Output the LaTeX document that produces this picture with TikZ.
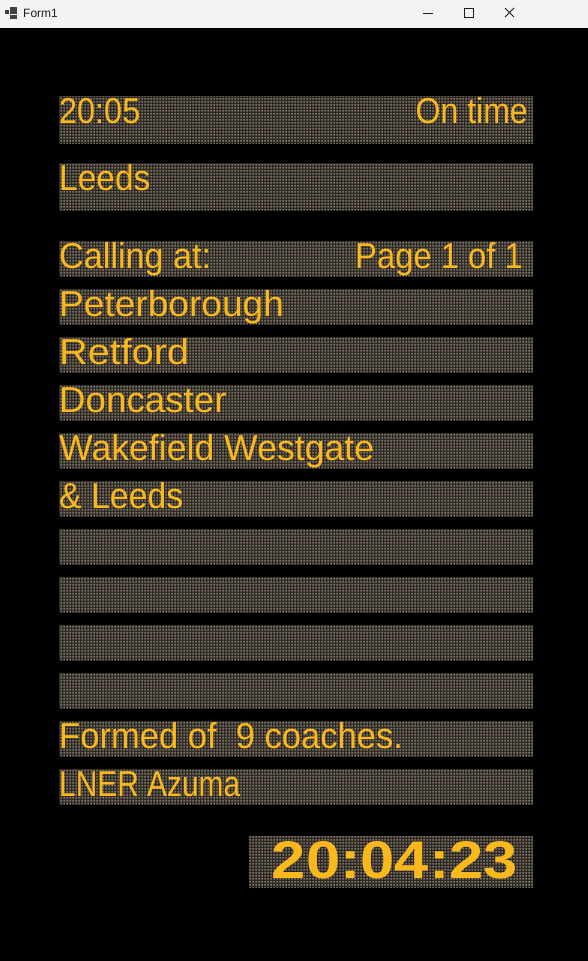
\documentclass[tikz,border=0pt]{standalone}
\usepackage{fontspec}
\setmainfont{Liberation Sans}
\usetikzlibrary{patterns}
\pgfdeclarepatternformonly{ledgrid}{\pgfqpoint{0pt}{0pt}}{\pgfqpoint{3pt}{3pt}}{\pgfqpoint{3pt}{3pt}}{\pgfpathrectangle{\pgfqpoint{0.4pt}{0.4pt}}{\pgfqpoint{2.2pt}{2.2pt}}\pgfusepath{fill}}
\definecolor{amber}{RGB}{250,184,28}
\definecolor{panelbg}{RGB}{44,40,35}
\definecolor{leddot}{RGB}{128,118,104}
\definecolor{titlebg}{RGB}{243,243,243}
\definecolor{titlefg}{RGB}{30,30,30}
\newcommand{\ledw}[2]{\scalebox{#1}[1]{#2}}
\begin{document}
\begin{tikzpicture}[x=1pt,y=-1pt,
  panel/.style={fill=panelbg, postaction={pattern=ledgrid, pattern color=leddot}},
  ledtext/.style={text=amber, font=\fontsize{36}{36}\selectfont, inner sep=0pt, anchor=base west},
  ledright/.style={ledtext, anchor=base east},
  clocktext/.style={text=amber, font=\fontsize{53}{53}\selectfont\bfseries, inner sep=0pt, anchor=base},
  winglyph/.style={draw=titlefg, line width=0.8pt}]
\useasboundingbox (0,0) rectangle (588,961);
% window
\fill[black] (0,0) rectangle (588,961);
\fill[titlebg] (0,0) rectangle (588,28);
% icon
\fill[titlefg!85] (10,7) rectangle (17,14);
\fill[titlefg!85] (5,10) rectangle (9,14);
\fill[titlefg!85] (10,15) rectangle (17,19);
\node[anchor=west, inner sep=0pt, text=titlefg, font=\fontsize{12}{12}\selectfont] (title) at (23,13) {Form1};
\coordinate (minA) at (423,13.5);
\coordinate (minB) at (433,13.5);
\draw[winglyph] (minA) -- (minB);
\draw[winglyph] (464,8.5) rectangle (473,17.5);
\draw[winglyph] (505,8) -- (514,17) (505,17) -- (514,8);
% panels
\path[panel] (59,96) rectangle (533,143);
\path[panel] (59,163) rectangle (533,210);
\foreach \t in {241,289,337,385,433,481,529,577,625,673,721,769}{
  \path[panel] (59,\t) rectangle (533,\t+35);
}
\path[panel] (249,836) rectangle (533,887);
% texts
\node[ledtext] (time) at (59,123) {\ledw{0.9}{20:05}};
\node[ledright] (status) at (528,123) {\ledw{0.89}{On time}};
\node[ledtext] (dest) at (59,190) {\ledw{0.93}{Leeds}};
\node[ledtext] (calling) at (59,268) {\ledw{0.95}{Calling at:}};
\node[ledright] (page) at (523,268) {\ledw{0.91}{Page 1 of 1}};
\node[ledtext] (s1) at (59,316) {\ledw{1.03}{Peterborough}};
\node[ledtext] (s2) at (59,364) {\ledw{1.1}{Retford}};
\node[ledtext] (s3) at (59,412) {\ledw{1.02}{Doncaster}};
\node[ledtext] (s4) at (59,460) {\ledw{0.99}{Wakefield Westgate}};
\node[ledtext] (s5) at (59,508) {\ledw{0.94}{\& Leeds}};
\node[ledtext] (formed) at (59,748) {\ledw{0.96}{Formed of~~9 coaches.}};
\node[ledtext] (train) at (59,796) {\ledw{0.83}{LNER Azuma}};
\node[clocktext] (clock) at (395,878) {\ledw{1.16}{20:04:23}};
\end{tikzpicture}
\end{document}
